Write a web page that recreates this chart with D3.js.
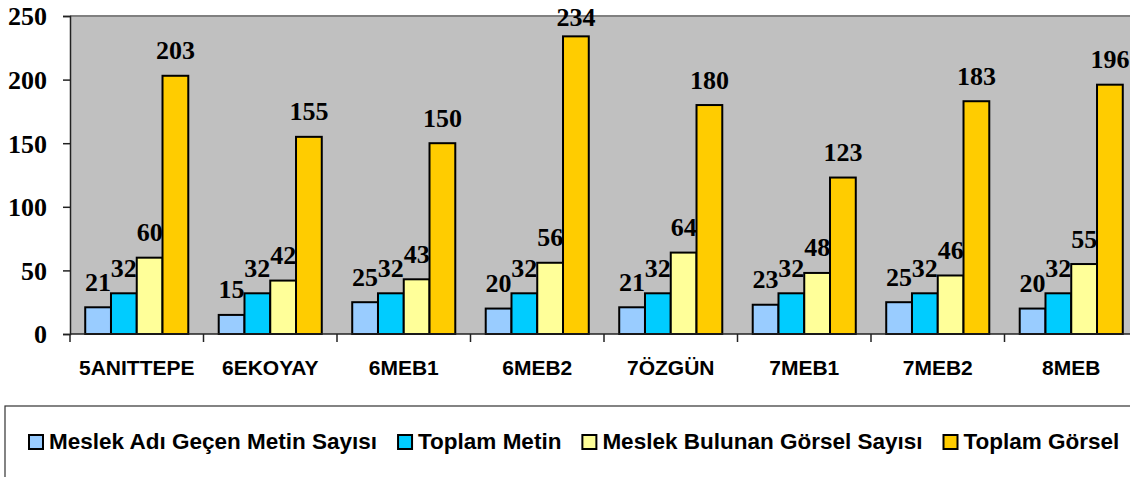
<!DOCTYPE html>
<html><head><meta charset="utf-8">
<script src="https://cdn.jsdelivr.net/npm/d3@7"></script>
<style>body{margin:0;background:#fff}svg{display:block}</style>
</head><body>
<script>
const categories = ["5ANITTEPE","6EKOYAY","6MEB1","6MEB2","7ÖZGÜN","7MEB1","7MEB2","8MEB"];
const seriesNames = ["Meslek Adı Geçen Metin Sayısı","Toplam Metin","Meslek Bulunan Görsel Sayısı","Toplam Görsel"];
const meslekMetin = [21,15,25,20,21,23,25,20];
const toplamMetin = [32,32,32,32,32,32,32,32];
const meslekGorsel = [60,42,43,56,64,48,46,55];
const toplamGorsel = [203,155,150,234,180,123,183,196];
const yTicks = [0,50,100,150,200,250];
const colors = ["#99CCFF","#00CCFF","#FFFF99","#FFCC00"];

(function () {
const seriesValues = [meslekMetin, toplamMetin, meslekGorsel, toplamGorsel];
const W = 1130, H = 477;
const svg = d3.select("body").append("svg").attr("width", W).attr("height", H);

const pL = 70, pR = 1138, pT = 16, pB = 334;
const x0 = d3.scaleBand().domain(categories).range([pL, pR]).paddingInner(0.228).paddingOuter(0.114);
const x1 = d3.scaleBand().domain(d3.range(4)).range([0, x0.bandwidth()]).padding(0);
const y = d3.scaleLinear().domain([0, 250]).range([pB, pT]);
const step = x0.step();

// plot background
svg.append("rect").attr("x", pL).attr("y", pT).attr("width", pR - pL).attr("height", pB - pT).attr("fill", "#C0C0C0");
svg.append("line").attr("x1", pL).attr("x2", pR).attr("y1", pT).attr("y2", pT).attr("stroke", "#808080").attr("stroke-width", 2);

// y axis
const yAxis = d3.axisLeft(y).tickValues(yTicks).tickSize(7).tickPadding(16);
const gy = svg.append("g").attr("transform", `translate(${pL},0)`).call(yAxis);
gy.select(".domain").attr("stroke", "#222").attr("stroke-width", 1.5);
gy.selectAll(".tick line").attr("stroke", "#222").attr("stroke-width", 1.5);
gy.selectAll(".tick text").attr("font-family", "'Liberation Serif','Times New Roman',serif").attr("font-weight", "bold").attr("font-size", 26).attr("fill", "#000").attr("dy", "0.34em");

// bars
const groups = svg.append("g").selectAll("g").data(categories).join("g").attr("transform", d => `translate(${x0(d)},0)`);
groups.selectAll("rect").data((d, i) => seriesValues.map((s, k) => ({k, v: s[i]}))).join("rect")
  .attr("x", d => x1(d.k)).attr("y", d => y(d.v)).attr("width", x1.bandwidth()).attr("height", d => y(0) - y(d.v))
  .attr("fill", d => colors[d.k]).attr("stroke", "#000").attr("stroke-width", 2);

// x axis
const boundaries = d3.range(categories.length + 1).map(i => pL + i * step);
svg.append("line").attr("x1", pL).attr("x2", pR).attr("y1", pB).attr("y2", pB).attr("stroke", "#222").attr("stroke-width", 1.5);
svg.append("g").selectAll("line").data(boundaries).join("line")
  .attr("x1", d => d).attr("x2", d => d).attr("y1", pB).attr("y2", pB + 8).attr("stroke", "#222").attr("stroke-width", 1.5);
svg.append("g").selectAll("text").data(categories).join("text")
  .attr("x", d => x0(d) + x0.bandwidth() / 2).attr("y", 375).attr("text-anchor", "middle")
  .attr("font-family", "'Liberation Sans',Arial,sans-serif").attr("font-weight", "bold").attr("font-size", 21).attr("fill", "#000")
  .text(d => d);

// value labels (kept inside the chart area at the top)
groups.selectAll("text").data((d, i) => seriesValues.map((s, k) => ({k, v: s[i]}))).join("text")
  .attr("x", d => x1(d.k) + x1.bandwidth() / 2).attr("y", d => Math.max(y(d.v) - 16.5, 26)).attr("text-anchor", "middle")
  .attr("font-family", "'Liberation Serif','Times New Roman',serif").attr("font-weight", "bold").attr("font-size", 26).attr("fill", "#000")
  .text(d => d.v);

// legend
svg.append("rect").attr("x", 5).attr("y", 406).attr("width", 1140).attr("height", 90).attr("fill", "#fff").attr("stroke", "#333").attr("stroke-width", 1.2);
const lg = svg.append("g");
let lx = 29;
seriesNames.forEach((name, k) => {
  lg.append("rect").attr("x", lx).attr("y", 435).attr("width", 14).attr("height", 14).attr("fill", colors[k]).attr("stroke", "#000").attr("stroke-width", 2);
  const t = lg.append("text").attr("x", lx + 20).attr("y", 449)
    .attr("font-family", "'Liberation Sans',Arial,sans-serif").attr("font-weight", "bold").attr("font-size", 22.5).attr("fill", "#000").text(name);
  lx = lx + 20 + t.node().getComputedTextLength() + 21;
});
})();
</script>
</body></html>
